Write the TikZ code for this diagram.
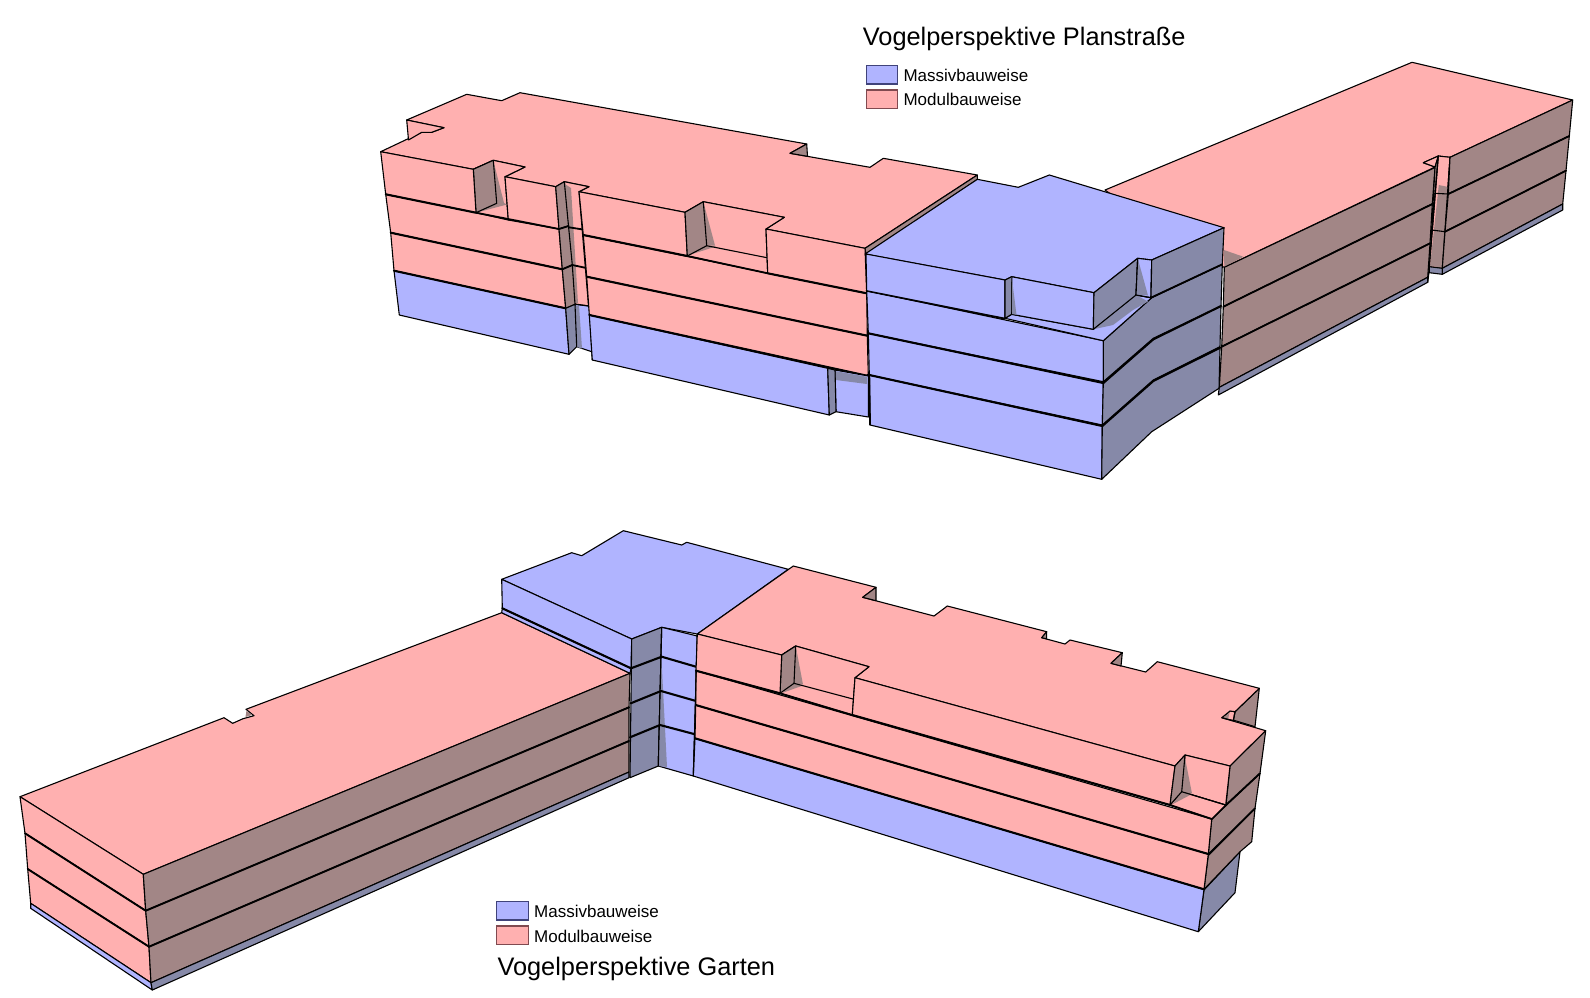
\documentclass[tikz,border=0pt]{standalone}
\usepackage{fontspec}
\setmainfont{Liberation Sans}
\definecolor{pinkc}{HTML}{FFB0B0}
\definecolor{bluec}{HTML}{B0B4FF}
\definecolor{brownc}{HTML}{A28686}
\definecolor{grayc}{HTML}{8689A8}
\definecolor{legbluedge}{HTML}{40437A}
\definecolor{legpinkedge}{HTML}{804A50}
\tikzset{
  edgeline/.style={draw=black,line width=1.1pt,line join=round},
  pinkf/.style={edgeline,fill=pinkc},
  bluef/.style={edgeline,fill=bluec},
  brownf/.style={edgeline,fill=brownc},
  grayf/.style={edgeline,fill=grayc},
  shadebrown/.style={fill=brownc,draw=none},
  shadegray/.style={fill=grayc,draw=none},
  floorline/.style={draw=black,line width=2.1pt,line cap=round},
  legtext/.style={anchor=base west,inner sep=0pt,text=black,font=\fontsize{17}{19}\selectfont},
  titletext/.style={anchor=base west,inner sep=0pt,text=black,font=\fontsize{25.35}{28}\selectfont},
  legblue/.style={draw=legbluedge,line width=1.4pt,fill=bluec},
  legpink/.style={draw=legpinkedge,line width=1.4pt,fill=pinkc}
}
\begin{document}
\begin{tikzpicture}[x=1pt,y=-1pt]
\useasboundingbox (0,0) rectangle (1590,997);
\fill[white] (0,0) rectangle (1590,997);

% ===== UPPER VIEW =====
% right wing roof
\path[pinkf] (1105,190)--(1412,62.3)--(1572.7,100)--(1450,157.3)--(1438.3,156)--(1423.3,162.7)--(1435,167)--(1224.3,267.3)--(1200,258)--cycle;
\path[pinkf] (1423.3,162.7)--(1438.3,156)--(1435,167)--cycle;
\path[shadebrown] (1224,250)--(1243.3,256.7)--(1224.3,267)--cycle;
% right wing long wall
\path[brownf] (1435,167.5)--(1224.3,267.3)--(1223.3,306.7)--(1432.3,204)--cycle;
\path[brownf] (1432.3,204)--(1223.3,306.7)--(1221.7,346.7)--(1430,243.3)--cycle;
\path[brownf] (1430,243.3)--(1221.7,346.7)--(1219.3,387.3)--(1427.7,277.3)--cycle;
\path[grayf] (1427.7,277.3)--(1219.3,387.3)--(1218.3,395)--(1427.7,282.3)--cycle;
\draw[floorline,line width=1.8pt] (1432.3,204)--(1223.3,306.7);
\draw[floorline,line width=1.8pt] (1430,243.3)--(1221.7,346.7);
% right wing slot
\path[brownf] (1435,167.5)--(1438.3,156)--(1429.3,266.7)--(1427.7,282.3)--(1429.5,268)--cycle;
\path[pinkf] (1438.3,156)--(1450,157.3)--(1442.3,268.3)--(1429.3,266.7)--cycle;
\path[shadebrown] (1438.8,185)--(1448.3,187)--(1442.6,267.5)--(1430,266)--cycle;
\draw[edgeline] (1438.3,156)--(1429.3,266.7);
\draw[edgeline] (1450,157.3)--(1442.3,268.3);
\draw[edgeline] (1434.3,193.3)--(1448.3,194);
\draw[edgeline] (1431.7,230)--(1445,231.7);
\path[grayf] (1429.3,266.7)--(1442.3,268.3)--(1442.3,274.3)--(1429.3,272.7)--cycle;
% right wing end part
\path[brownf] (1450,157.3)--(1572.7,100)--(1569.3,136)--(1448.3,194)--cycle;
\path[brownf] (1448.3,194)--(1569.3,136)--(1566,170.7)--(1445,231.7)--cycle;
\path[brownf] (1445,231.7)--(1566,170.7)--(1562.7,204)--(1442.3,268.3)--cycle;
\path[grayf] (1442.3,268.3)--(1562.7,204)--(1562.7,210)--(1442.3,274.3)--cycle;
\draw[floorline,line width=1.8pt] (1448.3,194)--(1569.3,136);
\draw[floorline,line width=1.8pt] (1445,231.7)--(1566,170.7);

% pink main roof
\path[pinkf] (380.7,151.7)--(421.7,132.3)--(431.7,132.3)--(444,127.7)--(406.7,120)--(466.7,94.3)--(501.7,100.7)--(520,92.7)--(806.7,144)--(790,153.3)--(870,167.3)--(883.3,158.3)--(977.3,175)--(865,248.3)--(766,229)--(784.3,217.3)--(703.3,201.7)--(685,212.3)--(579,191.7)--(589,186.7)--(564.3,181.7)--(555.7,186.7)--(505,176.7)--(525,167)--(493.3,160.3)--(473.3,169.3)--cycle;
\path[brownf] (806.7,144)--(790,153.3)--(807.5,156.3)--cycle;
\draw[edgeline,fill=pinkc] (406.7,120)--(408.5,140)--(421.7,132.3)--(431.7,132.3)--(444,127.7)--cycle;
\path[brownf] (977.3,175)--(977.3,179.5)--(866,254)--(865,248.3)--cycle;

% pink front, left block
\path[pinkf] (385.7,194.3)--(559,229)--(562.3,269.3)--(390.7,232.7)--cycle;
\path[pinkf] (390.7,232.7)--(562.3,269.3)--(565.7,308.3)--(394,270.7)--cycle;
\path[bluef] (394,270.7)--(565.7,308.3)--(569,354.3)--(399.3,315)--cycle;
% recess 1
\path[pinkf] (473.3,169.3)--(493.3,160.3)--(525,167)--(505,176.7)--(508.3,220)--(476,212.7)--cycle;
\path[shadebrown] (493.3,160.3)--(496.7,203.3)--(477,212.5)--(490,209)--(507,204.5)--(504,203)--cycle;
\path[brownf] (473.3,169.3)--(493.3,160.3)--(496.7,203.3)--(476,212.7)--cycle;
\path[pinkf] (380.7,151.7)--(473.3,169.3)--(476,212.7)--(385.7,194.3)--cycle;
\path[pinkf] (505,176.7)--(555.7,186.7)--(559,229)--(508.3,220)--cycle;
\draw[floorline] (385.7,194.3)--(476,212.7);
\draw[edgeline,line width=1.8pt] (476,212.7)--(559,229);
\draw[floorline] (390.7,232.7)--(562.3,269.3);
\draw[floorline] (394,270.7)--(565.7,308.3);

% slot back wall
\path[pinkf] (564.3,181.7)--(589,186.7)--(579,191.7)--(589.3,315)--(575,304)--cycle;
\path[bluef] (575,304)--(589.3,306)--(592.3,360)--(591.7,351.7)--(576.7,346.7)--cycle;
\path[shadebrown] (565,184)--(571,188)--(578,303)--(572,303)--cycle;
\path[shadegray] (575,306)--(579,305.5)--(582,348.5)--(577,347)--cycle;
\draw[floorline,line width=1.8pt] (565,226.7)--(581.7,229.3);
\draw[floorline,line width=1.8pt] (572.3,265)--(585,267.7);
\draw[edgeline] (575,304.3)--(588.3,306);
% slot strip
\path[brownf] (555.7,186.7)--(564.3,181.7)--(568.5,226)--(559,229)--cycle;
\path[brownf] (559,229)--(568.5,226)--(572.3,265)--(562.3,269.3)--cycle;
\path[brownf] (562.3,269.3)--(572.3,265)--(575,304.3)--(565.7,308.3)--cycle;
\path[grayf] (565.7,308.3)--(575,304.3)--(576.7,346.7)--(569,354.3)--cycle;
\draw[floorline,line width=1.8pt] (559,229)--(568.5,226);
\draw[floorline,line width=1.8pt] (562.3,269.3)--(572.3,265);

% pink front, middle block
\path[pinkf] (583.3,235)--(866.7,293.3)--(867.3,335.7)--(586.7,276.7)--cycle;
\path[pinkf] (586.7,276.7)--(867.3,335.7)--(868.3,376)--(589.3,315)--cycle;
\path[pinkf] (579,191.7)--(685,212.3)--(687.3,256)--(583.3,235)--cycle;
\path[pinkf] (703.3,201.7)--(784.3,217.3)--(766,229)--(767.7,273.3)--(687.3,256)--cycle;
\path[shadebrown] (703.3,201.7)--(715,245.5)--(706.7,245.7)--cycle;
\path[shadebrown] (706.7,245.7)--(716,246.5)--(689,255)--cycle;
\draw[edgeline] (706.7,245.7)--(767,257.7);
\path[brownf] (685,212.3)--(703.3,201.7)--(706.7,245.7)--(687.3,256)--cycle;
\path[pinkf] (766,229)--(865,248.3)--(866.7,293.3)--(767.7,273.3)--cycle;
\draw[floorline] (583.3,235)--(687.3,256);
\draw[edgeline,line width=1.8pt] (687.3,256)--(767.7,273.3);
\draw[floorline] (767.7,273.3)--(866.7,293.3);
\draw[floorline] (586.7,276.7)--(867.3,335.7);
% blue base middle
\path[bluef] (589.3,315)--(827.7,368.3)--(829.3,415)--(592.3,360)--cycle;
\draw[floorline] (589.3,315)--(868.3,376);
% passage
\path[bluef] (835,370)--(868.3,376)--(868.3,417)--(836,411.7)--cycle;
\path[shadegray] (836,371.2)--(867,376.8)--(867,384)--(836,380)--cycle;
\path[grayf] (827.7,368.3)--(835,370)--(836,411.7)--(829.3,415)--cycle;

% ===== blue block =====
\path[bluef] (865,254)--(977.3,179.3)--(1018.3,187.3)--(1049.3,175)--(1224,227.7)--(1151.7,260)--(1137.7,258.3)--(1094,292.7)--(1011.7,276.7)--(1005,280)--cycle;
% lower floors
\path[bluef] (869.3,375)--(1102.3,426)--(1101.7,479.3)--(870,425)--cycle;
\path[grayf] (1102.3,426)--(1153.3,381)--(1220,347.7)--(1219,388.3)--(1151.7,431.7)--(1101.7,479.3)--cycle;
\path[bluef] (868.3,333.3)--(1103.3,383)--(1102.3,425)--(869.3,375)--cycle;
\path[grayf] (1103.3,383)--(1153.3,339.3)--(1221,306)--(1220,346.7)--(1153.3,380)--(1102.3,425)--cycle;
\path[bluef] (866.7,290.7)--(1103.3,340.7)--(1103.3,381.7)--(868.3,333.3)--cycle;
\path[grayf] (1103.3,340.7)--(1151.7,297.7)--(1222.3,264.3)--(1221,306)--(1153.3,338.3)--(1103.3,381.7)--cycle;
\draw[edgeline,line width=1.8pt] (866.7,375)--(869.3,375)--(870,425);
\draw[floorline] (866.7,290.7)--(1005,318.5);
\draw[floorline] (868.3,333.3)--(1103.3,383);
\draw[floorline] (1103.3,383)--(1153.3,339.3)--(1221,306);
\draw[floorline] (869.3,375)--(1102.3,426);
\draw[floorline] (1102.3,426)--(1153.3,381)--(1220,347.7);
% setback terrace
\path[bluef] (1005,318.3)--(1103.3,340.7)--(1151.7,297.7)--(1136,295)--(1093.3,329.3)--(1011.7,314.3)--cycle;
\path[shadegray] (1093.3,329.3)--(1136,295)--(1148,301.5)--(1133,310)--(1113,325)--cycle;
% upper storey
\path[bluef] (866,254)--(1005,280)--(1005,318.3)--(866.7,290.7)--cycle;
\path[grayf] (1005,280)--(1011.7,276.7)--(1011.7,314.3)--(1005,318.3)--cycle;
\path[bluef] (1011.7,276.7)--(1094,292.7)--(1093.3,329.3)--(1011.7,314.3)--cycle;
\path[shadegray] (1011.7,277)--(1016.5,314.8)--(1012,314)--cycle;
\path[grayf] (1094,292.7)--(1137.7,258.3)--(1136,295)--(1093.3,329.3)--cycle;
\path[bluef] (1137.7,258.3)--(1151.7,260)--(1151,297.7)--(1136,295)--cycle;
\path[shadegray] (1137.7,258.3)--(1148,295.5)--(1136,295)--cycle;
\draw[edgeline] (1137.7,258.3)--(1136,295)--(1151,297.7)--(1151.7,260);
\path[grayf] (1151.7,260)--(1224,227.7)--(1222.3,264.3)--(1151,297.7)--cycle;
\draw[floorline,line width=1.8pt] (1151,297.7)--(1222.3,264.3);

% ===== LOWER VIEW =====
% left wing
\path[pinkf] (20,796.7)--(224,717.7)--(232.7,723.3)--(243,718.7)--(254,715.7)--(246,709.3)--(501.7,612.7)--(630,673.3)--(143.3,874.3)--cycle;
\path[shadebrown] (246.5,710.5)--(252,715)--(245.5,717)--cycle;
\path[pinkf] (20,796.7)--(143.3,874.3)--(145.7,910.7)--(25,833.3)--cycle;
\path[pinkf] (25,833.3)--(145.7,910.7)--(149,946.7)--(27.7,869)--cycle;
\path[pinkf] (27.7,869)--(149,946.7)--(151,982.7)--(30.7,903.3)--cycle;
\path[bluef] (30.7,903.3)--(151,982.7)--(152.3,990)--(30.7,908.3)--cycle;
\path[brownf] (143.3,874.3)--(630,673.3)--(629,707.3)--(145.7,910.7)--cycle;
\path[brownf] (145.7,910.7)--(629,707.3)--(629,741)--(149,946.7)--cycle;
\path[brownf] (149,946.7)--(629,741)--(629,772)--(151,982.7)--cycle;
\path[grayf] (151,982.7)--(629,772)--(629,777.7)--(152.3,990)--cycle;
\draw[floorline,line width=1.9pt] (25,833.3)--(145.7,910.7)--(629,707.3);
\draw[floorline,line width=1.9pt] (27.7,869)--(149,946.7)--(629,741);

% blue roof and front
\path[bluef] (501.7,579.3)--(571.7,552.7)--(581.7,555.7)--(623.3,530.7)--(681.7,545)--(686.7,542.3)--(788.3,569.3)--(697.3,634)--(661.7,627.3)--(631.7,639)--cycle;
\path[bluef] (501.7,579.3)--(631.7,639)--(631,668.3)--(502.3,608.3)--cycle;
\path[bluef] (502.3,608.3)--(631,668.3)--(630,673.3)--(501.7,612.7)--cycle;
\draw[floorline] (502.3,608.3)--(631,668.3);
% gray column
\path[grayf] (631.7,639)--(661.7,627.3)--(658.3,766)--(630,777.7)--cycle;
\path[bluef] (661.7,627.3)--(697.3,636)--(693.3,776)--(658.3,766)--cycle;
\path[shadegray] (661.5,660)--(667,767)--(658.5,766)--cycle;
\draw[edgeline] (661.7,627.3)--(658.3,766);
\draw[floorline] (631,668.3)--(661.7,656.7)--(696,666.7);
\draw[floorline] (630.7,703.3)--(661,691)--(695,700.7);
\draw[floorline] (630,737.3)--(660,725)--(694,734);

% pink right building roof
\path[brownf] (1259.3,688.3)--(1255,726.7)--(1233,720)--(1235,711.7)--cycle;
\path[pinkf] (1221.7,717.7)--(1230,711)--(1235,711.7)--(1233.3,720.7)--cycle;
\path[shadebrown] (1223,717.7)--(1229.5,712.5)--(1228,719.5)--cycle;
\path[pinkf] (697.3,634)--(793.3,566)--(876,587.3)--(862.7,597.3)--(934,616)--(947.3,606)--(1046.7,631.7)--(1041.7,637.7)--(1065,644)--(1070,640)--(1122.3,652.7)--(1111,663.3)--(1145.7,672)--(1157.3,661.7)--(1259.3,688.3)--(1235,711.7)--(1230,711)--(1221.7,717.7)--(1265.7,730.7)--(1230,766)--(1185,755)--(1175,766)--(855,677.7)--(869,666.7)--(795.7,646)--(781.7,655)--cycle;
\path[brownf] (876,587.3)--(862.7,597.3)--(876,600.7)--cycle;
\path[brownf] (1122.3,652.7)--(1111,663.3)--(1121,666)--cycle;
\draw[edgeline,fill=brownc] (1046.7,631.7)--(1041.7,637.7)--(1046.5,638.8)--cycle;
\draw[edgeline] (1235,711.7)--(1233.3,720.7)--(1221.7,717.7);

% pink right side walls
\path[grayf] (1204,890)--(1240,851.7)--(1235,892.7)--(1198.3,931.7)--cycle;
\path[brownf] (1208.3,855)--(1255,808.3)--(1251.7,841.7)--(1240,851.7)--(1204,889.3)--cycle;
\path[brownf] (1211.7,819)--(1260,773.3)--(1255,808.3)--(1208.3,854)--cycle;
\path[brownf] (1230,766)--(1265.7,730.7)--(1260,773.3)--(1226,805)--cycle;
\draw[floorline,line width=1.8pt] (1211.7,819)--(1226,805);
\draw[floorline,line width=1.8pt] (1226,805)--(1260,773.3);
\draw[floorline,line width=1.8pt] (1208.3,855)--(1255,808.3);

% pink front storeys
\path[bluef] (695,738.3)--(1204,889.3)--(1198.3,931.7)--(693.3,776)--cycle;
\path[pinkf] (695.7,705)--(1208.3,854)--(1204,889.3)--(695,738.3)--cycle;
\path[pinkf] (696,670.7)--(1211.7,819)--(1208.3,854)--(695.7,705)--cycle;
\draw[edgeline] (697.3,634)--(693.3,776);
% recess A
\path[pinkf] (781.7,655)--(795.7,646)--(869,666.7)--(855,677.7)--(852.3,715)--(780,693.3)--cycle;
\path[shadebrown] (795.7,646)--(803,684.5)--(794,683.3)--cycle;
\path[shadebrown] (794,683.3)--(803,685.5)--(782,693)--cycle;
\draw[edgeline] (794,683.3)--(853,699);
\path[brownf] (781.7,655)--(795.7,646)--(794,683.3)--(780,693.3)--cycle;
\path[pinkf] (697.3,634)--(781.7,655)--(780,693.3)--(696,670.7)--cycle;
% long upper wall
\path[pinkf] (855,677.7)--(1175,766)--(1170,805)--(852.3,715)--cycle;
% recess B
\path[pinkf] (1185,755)--(1230,766)--(1225.7,805)--(1181.7,791.7)--cycle;
\path[pinkf] (1181.7,791.7)--(1225.7,805)--(1211.7,819)--(1170,805)--cycle;
\path[shadebrown] (1185,758)--(1192,793.5)--(1181.7,791.7)--cycle;
\path[shadebrown] (1181.7,791.7)--(1192,794)--(1172,804.5)--cycle;
\draw[edgeline] (1181.7,791.7)--(1225.7,805);
\path[brownf] (1175,766)--(1185,755)--(1181.7,791.7)--(1170,805)--cycle;
\draw[floorline] (696,670.7)--(780,693.3);
\draw[edgeline,line width=1.8pt] (780,693.3)--(852.3,715);
\draw[floorline] (852.3,715)--(1170,805);
\draw[floorline,line width=1.8pt] (1170,805)--(1211.7,819);
\draw[floorline] (695.7,705)--(1208.3,854);
\draw[floorline] (695,738.3)--(1204,889.3);

% ===== legends and titles =====
\node[titletext] (titleA) at (862.7,45) {Vogelperspektive Planstraße};
\path[legblue] (866.7,65.7) rectangle (897.3,84);
\path[legpink] (866.7,90) rectangle (897.3,108.3);
\node[legtext] (massivA) at (903.3,81.7) {Massivbauweise};
\node[legtext] (modulA) at (903.3,105.3) {Modulbauweise};

\path[legblue] (496.7,901.7) rectangle (528.3,920);
\path[legpink] (496.7,926) rectangle (528.3,944.3);
\node[legtext] (massivB) at (534,917.3) {Massivbauweise};
\node[legtext] (modulB) at (534,942.7) {Modulbauweise};
\node[titletext] (titleB) at (497.3,975) {Vogelperspektive Garten};
\end{tikzpicture}
\end{document}
